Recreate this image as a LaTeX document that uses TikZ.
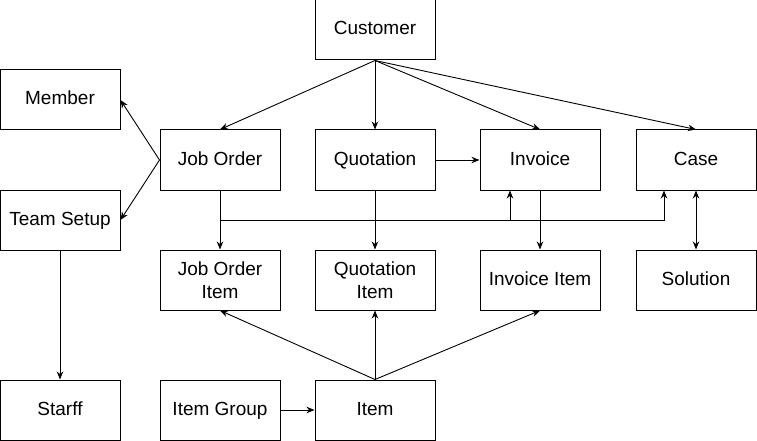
\documentclass[tikz,border=0pt]{standalone}
\usepackage{fontspec}
\setmainfont{Liberation Sans}
\usetikzlibrary{arrows.meta}
\begin{document}
\begin{tikzpicture}[x=1pt,y=-1pt,
  ent/.style={draw=black,line width=1pt,minimum width=120pt,minimum height=60pt,inner sep=0pt,
    align=center,font=\fontsize{19}{23.5}\selectfont,text=black},
  one/.style={ent,text height=14pt,text depth=4pt},
  conn/.style={draw=black,line width=0.9pt,-{Stealth[length=8pt,width=6.5pt,inset=2.5pt]}},
  biconn/.style={draw=black,line width=0.9pt,{Stealth[length=8pt,width=6.5pt,inset=2.5pt]}-{Stealth[length=8pt,width=6.5pt,inset=2.5pt]}}]
\useasboundingbox (0,0) rectangle (757,441);
\node[one] (cust) at (375,30) {Customer};
\node[one] (mem) at (60,100) {Member};
\node[one] (team) at (60,220) {Team Setup};
\node[one] (staff) at (60,410) {Starff};
\node[one] (jo) at (220,160) {Job Order};
\node[one] (quo) at (375,160) {Quotation};
\node[one] (inv) at (540,160) {Invoice};
\node[one] (case) at (696,160) {Case};
\node[ent] (joi) at (220,280) {Job Order\\Item};
\node[ent] (quoi) at (375,280) {Quotation\\Item};
\node[one] (invi) at (540,280) {Invoice Item};
\node[one] (sol) at (696,280) {Solution};
\node[one] (igrp) at (220,410) {Item Group};
\node[one] (item) at (375,410) {Item};
\coordinate (split) at (220,220);
% Customer
\draw[conn] (cust.south) -- (jo.north);
\draw[conn] (cust.south) -- (quo.north);
\draw[conn] (cust.south) -- (inv.north);
\draw[conn] (cust.south) -- (case.north);
% Job order to member/team
\draw[conn] (jo.west) -- (mem.east);
\draw[conn] (jo.west) -- (team.east);
% quotation to invoice
\draw[conn] (quo.east) -- (inv.west);
% vertical
\draw[conn] (jo.south) -- (joi.north);
\draw[conn] (quo.south) -- (quoi.north);
\draw[conn] (inv.south) -- (invi.north);
\draw[biconn] (case.south) -- (sol.north);
\draw[conn] (team.south) -- (staff.north);
% job order to invoice / case
\draw[conn] (jo.south) -- (split) -| ([xshift=-30pt]inv.south);
\draw[conn] (split) -| ([xshift=-32pt]case.south);
% item
\draw[conn] (igrp.east) -- (item.west);
\draw[conn] (item.north) -- (joi.south);
\draw[conn] (item.north) -- (quoi.south);
\draw[conn] (item.north) -- (invi.south);
\end{tikzpicture}
\end{document}
